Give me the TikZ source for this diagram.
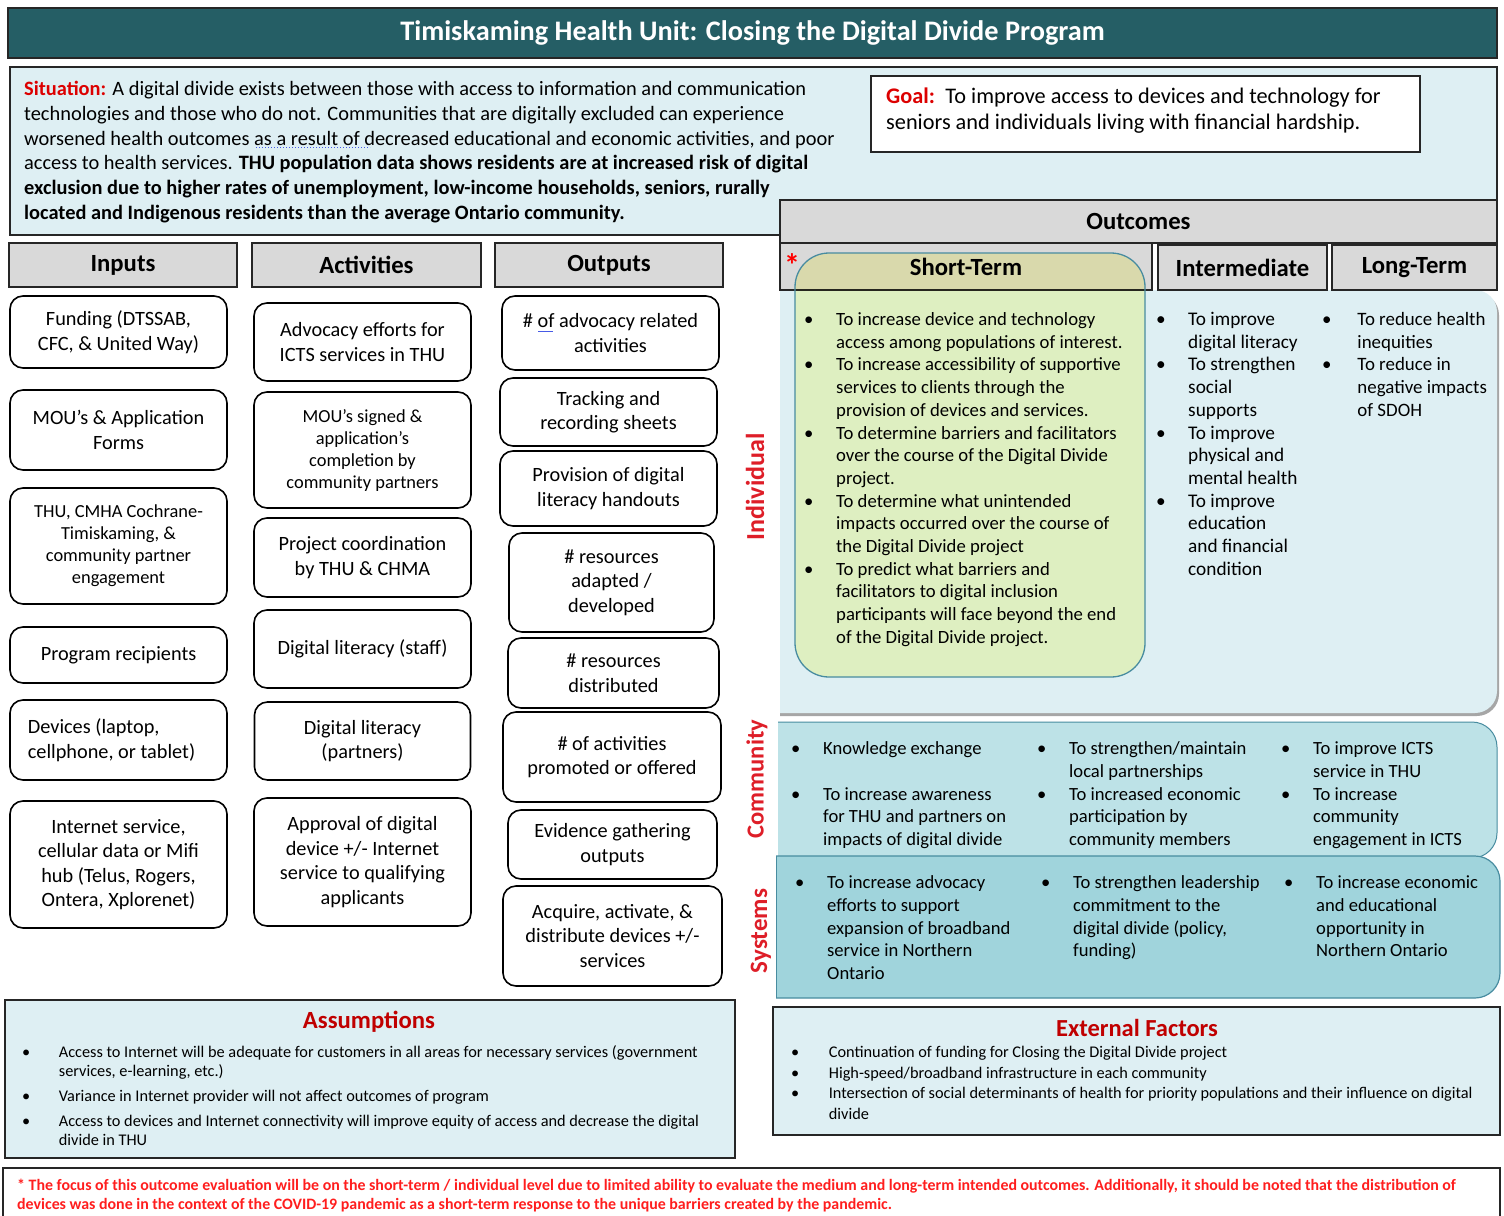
\documentclass[tikz,border=0pt]{standalone}
\usepackage{fontspec}
\setmainfont{Carlito}

\definecolor{titlebg}{RGB}{37,94,101}
\definecolor{paleblue}{RGB}{222,239,243}
\definecolor{headgray}{RGB}{217,217,217}
\definecolor{commblue}{RGB}{189,226,231}
\definecolor{sysblue}{RGB}{160,212,220}
\definecolor{stfill}{RGB}{255,255,203}
\definecolor{edgeteal}{RGB}{72,140,160}
\definecolor{labelred}{RGB}{222,30,40}
\definecolor{darkred}{RGB}{192,0,0}
\definecolor{notered}{RGB}{255,30,30}
\definecolor{sitred}{RGB}{220,0,0}
\definecolor{markblue}{RGB}{70,90,230}

% bullet and hanging indent for the hand-broken lists
\newcommand{\bulitem}[1][32pt]{\makebox[#1][l]{\textbullet}}
\newcommand{\contline}[1][32pt]{\hspace*{#1}}

% multi-line nodes below are placed by the baseline of their LAST line
\tikzset{
  frame/.style={draw=black!85, line width=1.4pt, inner sep=0pt},
  hdr/.style={frame, fill=headgray, font=\bfseries\fontsize{24.7}{28}\selectfont},
  lmbox/.style={draw=black, line width=1.6pt, rounded corners=13pt, fill=white,
    inner sep=0pt, align=center, font=\fontsize{20.3}{24.5}\selectfont},
  smallbox/.style={lmbox, font=\fontsize{18.4}{22}\selectfont},
  listtxt/.style={inner sep=0pt, anchor=base west, align=left,
    font=\fontsize{18.7}{22.7}\selectfont},
  sidelabel/.style={rotate=90, text=labelred, font=\bfseries\fontsize{25}{28}\selectfont},
}

\begin{document}
\begin{tikzpicture}[x=1pt,y=-1pt]
\useasboundingbox (0,0) rectangle (1504,1215);

% ---------- title bar ----------
\node[frame, fill=titlebg, minimum width=1489pt, minimum height=50pt, text=white,
  font=\bfseries\fontsize{28.3}{32}\selectfont] (title) at (752.5,33)
  {Timiskaming Health Unit: Closing the Digital Divide Program};

% ---------- situation and goal ----------
\node[frame, fill=paleblue, minimum width=1487pt, minimum height=168pt] (sitbox) at (753.5,151) {};
\node[inner sep=0pt, anchor=base west, align=left, font=\fontsize{20.4}{24.8}\selectfont] (sittext) at (24,219.5)
  {{\color{sitred}\bfseries Situation:} A digital divide exists between those with access to information and communication\\
   technologies and those who do not. Communities that are digitally excluded can experience\\
   worsened health outcomes as a result of decreased educational and economic activities, and poor\\
   access to health services. \textbf{THU population data shows residents are at increased risk of digital}\\
   \textbf{exclusion due to higher rates of unemployment, low-income households, seniors, rurally}\\
   \textbf{located and Indigenous residents than the average Ontario community.}};
% proofing mark under "as a result of"
\draw[markblue, line width=1pt, dotted] (256,147) -- (370,147);

\node[frame, fill=white, minimum width=549pt, minimum height=76pt] (goalbox) at (1145.5,114) {};
\node[inner sep=0pt, anchor=base west, align=left, font=\fontsize{22.3}{26}\selectfont] (goaltext) at (886,129)
  {{\color{sitred}\bfseries Goal:}\, To improve access to devices and technology for\\
   seniors and individuals living with financial hardship.};

% ---------- outcome bands ----------
\begin{scope}
  \clip (780,280) rectangle (1510,720);
  \fill[black!35, rounded corners=22pt] (745,293) rectangle (1499,716);
  \fill[paleblue, rounded corners=22pt] (740,290) rectangle (1497,713);
\end{scope}
\begin{scope}
  \clip (778,715) rectangle (1510,870);
  \filldraw[fill=commblue, draw=edgeteal, line width=1pt, rounded corners=25pt] (740,722) rectangle (1497,858);
\end{scope}
\begin{scope}
  \clip (776,850) rectangle (1510,1004);
  \filldraw[fill=sysblue, draw=edgeteal, line width=1.2pt, rounded corners=25pt] (740,856) rectangle (1500,998);
\end{scope}
\draw[edgeteal, line width=1pt] (776.5,856) -- (776.5,998);

% ---------- column headers ----------
\node[hdr, minimum width=228pt, minimum height=44pt] (hin) at (123,265) {Inputs};
\node[hdr, minimum width=229pt, minimum height=44pt] (hact) at (366.5,265) {Activities};
\node[hdr, minimum width=228pt, minimum height=44pt] (hout) at (609,265) {Outputs};
\node[hdr, minimum width=717pt, minimum height=43pt] (houtc) at (1138.5,221.5) {Outcomes};
\node[hdr, minimum width=372pt, minimum height=47pt] (hshort) at (966,266.5) {Short-Term};
\node[hdr, minimum width=169pt, minimum height=45pt] (hinter) at (1242.5,267.5) {Intermediate};
\node[hdr, minimum width=165pt, minimum height=45pt] (hlong) at (1414.5,267.5) {Long-Term};

% short-term highlight, tinting what lies beneath it
\path[fill=stfill, blend mode=multiply, rounded corners=34pt] (795,253) rectangle (1145,677);
\draw[edgeteal, line width=1.3pt, rounded corners=34pt] (795,253) rectangle (1145,677);
\node[text=red, inner sep=0pt, font=\bfseries\fontsize{32}{32}\selectfont] (star) at (792,265) {*};

% ---------- level labels ----------
\node[sidelabel, font=\bfseries\fontsize{26}{28}\selectfont] (lind) at (755,487) {Individual};
\node[sidelabel, font=\bfseries\fontsize{24.5}{28}\selectfont] (lcom) at (757,779) {Community};
\node[sidelabel] (lsys) at (761,931) {Systems};

% ---------- individual outcomes ----------
\node[listtxt] (stlist) at (804,643.3)
  {\bulitem To increase device and technology\\
   \contline access among populations of interest.\\
   \bulitem To increase accessibility of supportive\\
   \contline services to clients through the\\
   \contline provision of devices and services.\\
   \bulitem To determine barriers and facilitators\\
   \contline over the course of the Digital Divide\\
   \contline project.\\
   \bulitem To determine what unintended\\
   \contline impacts occurred over the course of\\
   \contline the Digital Divide project\\
   \bulitem To predict what barriers and\\
   \contline facilitators to digital inclusion\\
   \contline participants will face beyond the end\\
   \contline of the Digital Divide project.};
\node[listtxt, font=\fontsize{19.3}{22.7}\selectfont] (imlist) at (1156,575.2)
  {\bulitem To improve\\
   \contline digital literacy\\
   \bulitem To strengthen\\
   \contline social\\
   \contline supports\\
   \bulitem To improve\\
   \contline physical and\\
   \contline mental health\\
   \bulitem To improve\\
   \contline education\\
   \contline and financial\\
   \contline condition};
\node[listtxt, font=\fontsize{18.9}{22.7}\selectfont] (ltlist) at (1322,416.3)
  {\bulitem[31pt] To reduce health\\
   \contline[31pt] inequities\\
   \bulitem[31pt] To reduce in\\
   \contline[31pt] negative impacts\\
   \contline[31pt] of SDOH};

% ---------- community outcomes ----------
\tikzset{cmtxt/.style={listtxt, font=\fontsize{18.6}{22.8}\selectfont}}
\node[cmtxt] (cma) at (791,845.7)
  {\bulitem Knowledge exchange\\
   \mbox{}\\
   \bulitem To increase awareness\\
   \contline for THU and partners on\\
   \contline impacts of digital divide};
\node[cmtxt] (cmb) at (1037,845.7)
  {\bulitem To strengthen/maintain\\
   \contline local partnerships\\
   \bulitem To increased economic\\
   \contline participation by\\
   \contline community members};
\node[cmtxt] (cmc) at (1281,845.7)
  {\bulitem To improve ICTS\\
   \contline service in THU\\
   \bulitem To increase\\
   \contline community\\
   \contline engagement in ICTS};

% ---------- systems outcomes ----------
\node[cmtxt] (sya) at (795,979.7)
  {\bulitem To increase advocacy\\
   \contline efforts to support\\
   \contline expansion of broadband\\
   \contline service in Northern\\
   \contline Ontario};
\node[cmtxt] (syb) at (1041,956.9)
  {\bulitem To strengthen leadership\\
   \contline commitment to the\\
   \contline digital divide (policy,\\
   \contline funding)};
\node[cmtxt] (syc) at (1284,956.9)
  {\bulitem To increase economic\\
   \contline and educational\\
   \contline opportunity in\\
   \contline Northern Ontario};

% ---------- inputs ----------
\node[lmbox, minimum width=217pt, minimum height=72pt] (in1) at (118.5,332) {Funding (DTSSAB,\\CFC, \& United Way)};
\node[lmbox, minimum width=217pt, minimum height=80pt] (in2) at (118.5,430) {MOU’s \& Application\\Forms};
\node[smallbox, minimum width=217pt, minimum height=116pt] (in3) at (118.5,546) {THU, CMHA Cochrane-\\Timiskaming, \&\\community partner\\engagement};
\node[lmbox, minimum width=217pt, minimum height=56pt] (in4) at (118.5,655) {Program recipients};
\node[lmbox, minimum width=217pt, minimum height=80pt, align=left] (in5) at (118.5,740) {Devices (laptop,\\cellphone, or tablet)\hspace*{14pt}};
\node[lmbox, minimum width=217pt, minimum height=127pt] (in6) at (118.5,864.5) {Internet service,\\cellular data or Mifi\\hub (Telus, Rogers,\\Ontera, Xplorenet)};

% ---------- activities ----------
\node[lmbox, minimum width=217pt, minimum height=78pt] (ac1) at (362.5,342) {Advocacy efforts for\\ICTS services in THU};
\node[smallbox, minimum width=217pt, minimum height=116pt] (ac2) at (362.5,450) {MOU’s signed \&\\application’s\\completion by\\community partners};
\node[lmbox, minimum width=217pt, minimum height=79pt] (ac3) at (362.5,557.5) {Project coordination\\by THU \& CHMA};
\node[lmbox, minimum width=217pt, minimum height=78pt] (ac4) at (362.5,649) {Digital literacy (staff)};
\node[lmbox, minimum width=216pt, minimum height=78pt] (ac5) at (362.5,741) {Digital literacy\\(partners)};
\node[lmbox, minimum width=217pt, minimum height=128pt] (ac6) at (362.5,862) {Approval of digital\\device +/- Internet\\service to qualifying\\applicants};

% ---------- outputs ----------
\node[lmbox, minimum width=217pt, minimum height=74pt] (ou1) at (610.5,333) {\# of advocacy related\\activities};
\draw[markblue, line width=1pt] (538,331) -- (553,331);
\node[lmbox, minimum width=217pt, minimum height=68pt] (ou2) at (608.5,412) {Tracking and\\recording sheets};
\node[lmbox, minimum width=217pt, minimum height=75pt] (ou3) at (608.5,488.5) {Provision of digital\\literacy handouts};
\node[lmbox, minimum width=205pt, minimum height=99pt] (ou4) at (611.5,582.5) {\# resources\\adapted /\\developed};
\node[lmbox, minimum width=211pt, minimum height=70pt] (ou5) at (613.5,673) {\# resources\\distributed};
\node[lmbox, minimum width=218pt, minimum height=90pt] (ou6) at (612,757) {\# of activities\\promoted or offered};
\node[lmbox, minimum width=209pt, minimum height=69pt] (ou7) at (612.5,844.5) {Evidence gathering\\outputs};
\node[lmbox, minimum width=219pt, minimum height=100pt] (ou8) at (612.5,936) {Acquire, activate, \&\\distribute devices +/-\\services};

% ---------- assumptions ----------
\node[frame, fill=paleblue, minimum width=730pt, minimum height=158pt] (asbox) at (370,1079) {};
\node[text=darkred, inner sep=0pt, font=\bfseries\fontsize{24.7}{28}\selectfont] (astitle) at (369,1022) {Assumptions};
\node[inner sep=0pt, anchor=base west, align=left, font=\fontsize{16.3}{19}\selectfont] (aslist) at (22,1145.5)
  {\bulitem[33pt] Access to Internet will be adequate for customers in all areas for necessary services (government\\
   \contline[33pt] services, e-learning, etc.)\\[6pt]
   \bulitem[33pt] Variance in Internet provider will not affect outcomes of program\\[6pt]
   \bulitem[33pt] Access to devices and Internet connectivity will improve equity of access and decrease the digital\\
   \contline[33pt] divide in THU};

% ---------- external factors ----------
\node[frame, fill=paleblue, minimum width=727pt, minimum height=128pt] (exbox) at (1136.5,1071) {};
\node[text=darkred, inner sep=0pt, font=\bfseries\fontsize{24.5}{28}\selectfont] (extitle) at (1137,1028) {External Factors};
\node[inner sep=0pt, anchor=base west, align=left, font=\fontsize{16.3}{20.7}\selectfont] (exlist) at (791,1119.6)
  {\bulitem[34pt] Continuation of funding for Closing the Digital Divide project\\
   \bulitem[34pt] High-speed/broadband infrastructure in each community\\
   \bulitem[34pt] Intersection of social determinants of health for priority populations and their influence on digital\\
   \contline[34pt] divide};

% ---------- footnote ----------
\node[frame, fill=white, minimum width=1497pt, minimum height=60pt] (notebox) at (751.5,1198) {};
\node[inner sep=0pt, anchor=base west, align=left, text=notered, font=\bfseries\fontsize{15.9}{19}\selectfont] (notetext) at (17,1209)
  {* The focus of this outcome evaluation will be on the short-term / individual level due to limited ability to evaluate the medium and long-term intended outcomes. Additionally, it should be noted that the distribution of\\
   devices was done in the context of the COVID-19 pandemic as a short-term response to the unique barriers created by the pandemic.};

\end{tikzpicture}
\end{document}
